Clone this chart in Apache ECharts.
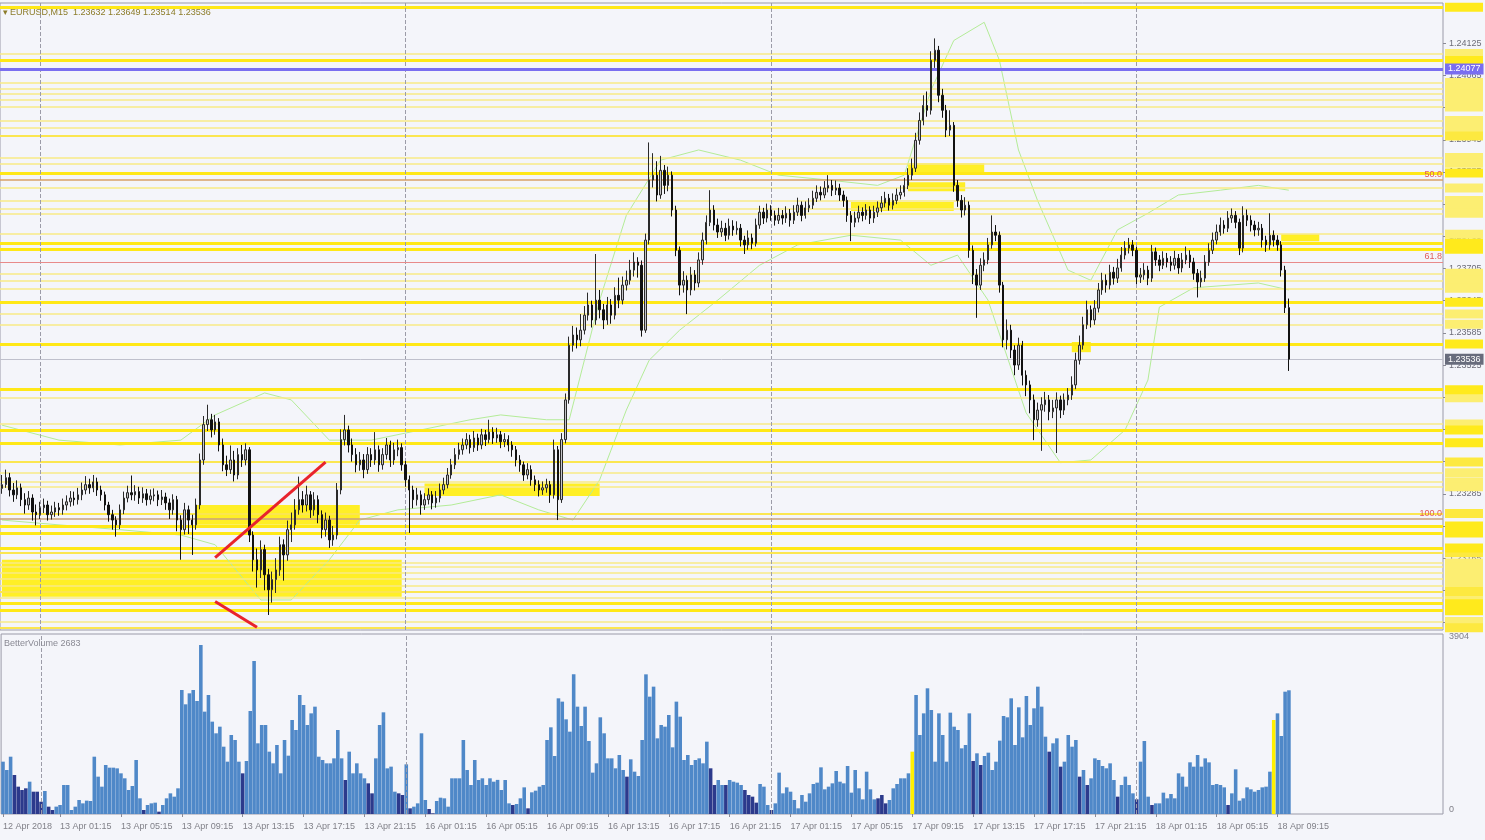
<!DOCTYPE html>
<html><head><meta charset="utf-8">
<script src="https://cdn.jsdelivr.net/npm/echarts@6/dist/echarts.min.js"></script>
<style>html,body{margin:0;padding:0;background:#f4f5fa;}#c{width:1485px;height:840px;}</style>
</head><body><div id="c"></div>
<script>
// ---------- DATA ----------
const symbolName = 'EURUSD,M15';
const firstOpen = 1.23295;
const closes = [
1.23302,1.23315,1.23292,1.23283,1.23296,1.23274,1.23264,1.23277,1.23251,1.23246,
1.23259,1.23264,1.23246,1.23251,1.23259,1.23255,1.23264,1.23270,1.23277,1.23274,
1.23283,1.23292,1.23302,1.23296,1.23307,1.23292,1.23283,1.23264,1.23246,1.23236,
1.23227,1.23255,1.23277,1.23287,1.23283,1.23289,1.23277,1.23285,1.23274,1.23281,
1.23283,1.23274,1.23279,1.23268,1.23255,1.23274,1.23236,1.23218,1.23255,1.23236,
1.23227,1.23264,1.23348,1.23414,1.23423,1.23404,1.23419,1.23376,1.23339,1.23330,
1.23348,1.23320,1.23358,1.23348,1.23367,1.23208,1.23162,1.23143,1.23181,1.23134,
1.23106,1.23125,1.23143,1.23190,1.23171,1.23218,1.23227,1.23255,1.23274,1.23264,
1.23283,1.23255,1.23274,1.23246,1.23218,1.23236,1.23199,1.23208,1.23292,1.23386,
1.23404,1.23376,1.23358,1.23339,1.23348,1.23330,1.23358,1.23348,1.23367,1.23339,
1.23358,1.23376,1.23348,1.23367,1.23371,1.23339,1.23311,1.23292,1.23274,1.23283,
1.23264,1.23274,1.23283,1.23268,1.23277,1.23292,1.23302,1.23320,1.23339,1.23358,
1.23367,1.23376,1.23386,1.23371,1.23389,1.23376,1.23395,1.23386,1.23400,1.23389,
1.23395,1.23382,1.23386,1.23376,1.23367,1.23348,1.23339,1.23320,1.23330,1.23311,
1.23302,1.23292,1.23296,1.23302,1.23283,1.23367,1.23274,1.23386,1.23460,1.23562,
1.23581,1.23572,1.23590,1.23618,1.23637,1.23609,1.23646,1.23628,1.23609,1.23637,
1.23618,1.23655,1.23646,1.23674,1.23683,1.23702,1.23717,1.23711,1.23590,1.23758,
1.23870,1.23879,1.23842,1.23888,1.23860,1.23879,1.23814,1.23739,1.23674,1.23683,
1.23665,1.23693,1.23678,1.23721,1.23758,1.23791,1.23814,1.23786,1.23773,1.23780,
1.23767,1.23784,1.23777,1.23780,1.23758,1.23749,1.23762,1.23752,1.23786,1.23810,
1.23799,1.23814,1.23804,1.23795,1.23804,1.23799,1.23808,1.23795,1.23810,1.23823,
1.23804,1.23818,1.23823,1.23836,1.23847,1.23842,1.23855,1.23860,1.23851,1.23855,
1.23842,1.23832,1.23804,1.23791,1.23799,1.23810,1.23804,1.23814,1.23799,1.23810,
1.23818,1.23827,1.23836,1.23823,1.23832,1.23842,1.23847,1.23860,1.23879,1.23892,
1.23944,1.23981,1.24009,1.24000,1.24093,1.24112,1.24028,1.24000,1.23963,1.23972,
1.23860,1.23832,1.23814,1.23823,1.23739,1.23693,1.23674,1.23711,1.23721,1.23749,
1.23773,1.23767,1.23674,1.23572,1.23590,1.23553,1.23525,1.23562,1.23506,1.23488,
1.23460,1.23423,1.23441,1.23451,1.23460,1.23438,1.23445,1.23460,1.23441,1.23460,
1.23469,1.23488,1.23534,1.23562,1.23600,1.23628,1.23609,1.23631,1.23665,1.23683,
1.23674,1.23698,1.23687,1.23706,1.23730,1.23743,1.23749,1.23739,1.23689,1.23693,
1.23702,1.23687,1.23736,1.23721,1.23711,1.23724,1.23717,1.23711,1.23724,1.23706,
1.23721,1.23730,1.23717,1.23696,1.23680,1.23687,1.23717,1.23739,1.23758,1.23773,
1.23786,1.23780,1.23799,1.23804,1.23791,1.23743,1.23804,1.23795,1.23786,1.23777,
1.23780,1.23758,1.23749,1.23767,1.23758,1.23749,1.23702,1.23632,1.23536];
const highs = [
1.23320,1.23330,1.23324,1.23305,1.23310,1.23304,1.23286,1.23290,1.23284,1.23265,
1.23270,1.23276,1.23272,1.23263,1.23270,1.23268,1.23276,1.23282,1.23290,1.23289,
1.23296,1.23306,1.23318,1.23313,1.23320,1.23315,1.23300,1.23289,1.23270,1.23255,
1.23243,1.23265,1.23289,1.23300,1.23319,1.23301,1.23298,1.23297,1.23294,1.23293,
1.23295,1.23291,1.23292,1.23287,1.23276,1.23284,1.23281,1.23245,1.23268,1.23263,
1.23246,1.23276,1.23360,1.23430,1.23451,1.23434,1.23432,1.23426,1.23388,1.23356,
1.23375,1.23365,1.23370,1.23376,1.23379,1.23372,1.23215,1.23183,1.23198,1.23190,
1.23145,1.23140,1.23165,1.23205,1.23200,1.23235,1.23250,1.23275,1.23317,1.23290,
1.23300,1.23290,1.23288,1.23282,1.23254,1.23250,1.23244,1.23225,1.23305,1.23405,
1.23432,1.23412,1.23388,1.23370,1.23363,1.23359,1.23372,1.23370,1.23400,1.23375,
1.23370,1.23389,1.23384,1.23380,1.23386,1.23379,1.23346,1.23319,1.23300,1.23296,
1.23291,1.23286,1.23295,1.23290,1.23290,1.23304,1.23315,1.23333,1.23350,1.23370,
1.23380,1.23388,1.23398,1.23395,1.23402,1.23397,1.23406,1.23404,1.23423,1.23409,
1.23408,1.23402,1.23398,1.23394,1.23383,1.23374,1.23357,1.23345,1.23342,1.23338,
1.23319,1.23310,1.23308,1.23313,1.23309,1.23386,1.23374,1.23398,1.23472,1.23578,
1.23598,1.23595,1.23620,1.23635,1.23660,1.23645,1.23732,1.23665,1.23639,1.23652,
1.23648,1.23670,1.23688,1.23690,1.23701,1.23721,1.23735,1.23726,1.23720,1.23770,
1.23940,1.23920,1.23905,1.23915,1.23898,1.23895,1.23886,1.23822,1.23746,1.23700,
1.23692,1.23708,1.23702,1.23735,1.23772,1.23804,1.23851,1.23823,1.23798,1.23794,
1.23790,1.23798,1.23795,1.23793,1.23788,1.23766,1.23776,1.23770,1.23798,1.23822,
1.23818,1.23826,1.23823,1.23813,1.23818,1.23814,1.23821,1.23816,1.23823,1.23837,
1.23830,1.23830,1.23836,1.23850,1.23860,1.23858,1.23868,1.23879,1.23870,1.23869,
1.23863,1.23850,1.23839,1.23812,1.23811,1.23822,1.23819,1.23825,1.23821,1.23822,
1.23830,1.23840,1.23848,1.23844,1.23845,1.23854,1.23860,1.23874,1.23892,1.23910,
1.23958,1.23996,1.24028,1.24035,1.24110,1.24134,1.24120,1.24040,1.24010,1.24000,
1.23978,1.23870,1.23842,1.23838,1.23830,1.23748,1.23704,1.23724,1.23735,1.23762,
1.23804,1.23786,1.23774,1.23680,1.23610,1.23600,1.23562,1.23576,1.23570,1.23515,
1.23496,1.23470,1.23455,1.23465,1.23475,1.23469,1.23460,1.23474,1.23468,1.23472,
1.23482,1.23504,1.23548,1.23580,1.23615,1.23645,1.23636,1.23646,1.23678,1.23697,
1.23694,1.23712,1.23708,1.23723,1.23745,1.23756,1.23762,1.23758,1.23746,1.23706,
1.23715,1.23710,1.23749,1.23744,1.23730,1.23737,1.23734,1.23728,1.23738,1.23732,
1.23734,1.23746,1.23739,1.23725,1.23704,1.23701,1.23730,1.23752,1.23772,1.23787,
1.23800,1.23795,1.23812,1.23817,1.23812,1.23798,1.23821,1.23815,1.23804,1.23794,
1.23792,1.23788,1.23766,1.23808,1.23776,1.23767,1.23756,1.23710,1.23649];
const lows = [
1.23285,1.23296,1.23280,1.23270,1.23275,1.23262,1.23248,1.23255,1.23235,1.23226,
1.23238,1.23249,1.23235,1.23237,1.23242,1.23244,1.23246,1.23254,1.23261,1.23263,
1.23265,1.23273,1.23284,1.23285,1.23288,1.23281,1.23272,1.23254,1.23233,1.23218,
1.23205,1.23219,1.23247,1.23269,1.23273,1.23272,1.23266,1.23268,1.23263,1.23265,
1.23271,1.23262,1.23264,1.23255,1.23238,1.23246,1.23215,1.23162,1.23209,1.23210,
1.23171,1.23218,1.23256,1.23339,1.23402,1.23390,1.23395,1.23364,1.23327,1.23318,
1.23322,1.23308,1.23312,1.23335,1.23338,1.23195,1.23140,1.23110,1.23128,1.23105,
1.23059,1.23082,1.23100,1.23132,1.23123,1.23160,1.23195,1.23218,1.23246,1.23250,
1.23252,1.23240,1.23244,1.23230,1.23202,1.23205,1.23184,1.23188,1.23200,1.23284,
1.23375,1.23362,1.23345,1.23325,1.23328,1.23314,1.23322,1.23335,1.23339,1.23326,
1.23330,1.23349,1.23335,1.23339,1.23355,1.23328,1.23298,1.23212,1.23258,1.23263,
1.23246,1.23255,1.23265,1.23256,1.23259,1.23269,1.23284,1.23295,1.23313,1.23331,
1.23349,1.23358,1.23368,1.23360,1.23363,1.23365,1.23368,1.23374,1.23379,1.23378,
1.23380,1.23370,1.23372,1.23364,1.23354,1.23336,1.23326,1.23309,1.23312,1.23300,
1.23290,1.23280,1.23283,1.23287,1.23268,1.23276,1.23236,1.23268,1.23379,1.23453,
1.23550,1.23556,1.23560,1.23582,1.23608,1.23595,1.23600,1.23612,1.23592,1.23600,
1.23602,1.23610,1.23631,1.23638,1.23664,1.23675,1.23690,1.23688,1.23578,1.23585,
1.23750,1.23856,1.23830,1.23835,1.23844,1.23849,1.23802,1.23728,1.23655,1.23660,
1.23620,1.23655,1.23664,1.23670,1.23712,1.23750,1.23784,1.23776,1.23762,1.23764,
1.23756,1.23759,1.23766,1.23768,1.23746,1.23732,1.23740,1.23741,1.23746,1.23779,
1.23788,1.23791,1.23794,1.23785,1.23788,1.23787,1.23790,1.23783,1.23788,1.23803,
1.23793,1.23798,1.23810,1.23816,1.23829,1.23832,1.23836,1.23847,1.23840,1.23842,
1.23831,1.23820,1.23792,1.23756,1.23782,1.23791,1.23793,1.23796,1.23788,1.23790,
1.23801,1.23810,1.23819,1.23813,1.23815,1.23825,1.23834,1.23839,1.23853,1.23870,
1.23885,1.23936,1.23972,1.23988,1.23992,1.24079,1.24015,1.23986,1.23950,1.23952,
1.23848,1.23820,1.23800,1.23804,1.23725,1.23676,1.23613,1.23665,1.23700,1.23713,
1.23742,1.23756,1.23660,1.23558,1.23554,1.23538,1.23506,1.23516,1.23487,1.23467,
1.23435,1.23385,1.23410,1.23365,1.23438,1.23422,1.23426,1.23361,1.23426,1.23432,
1.23450,1.23460,1.23480,1.23526,1.23554,1.23592,1.23595,1.23600,1.23623,1.23656,
1.23660,1.23666,1.23675,1.23678,1.23699,1.23722,1.23733,1.23728,1.23676,1.23678,
1.23684,1.23674,1.23680,1.23710,1.23700,1.23704,1.23707,1.23700,1.23703,1.23695,
1.23698,1.23713,1.23706,1.23684,1.23651,1.23670,1.23680,1.23710,1.23732,1.23750,
1.23766,1.23770,1.23773,1.23790,1.23780,1.23730,1.23735,1.23784,1.23774,1.23765,
1.23766,1.23744,1.23736,1.23740,1.23746,1.23738,1.23690,1.23622,1.23514];
const volumes = [
1135,954,1243,846,593,520,557,701,484,484,
267,499,159,87,160,195,629,629,87,159,
304,231,290,282,1243,810,593,1063,1005,1005,
990,882,774,521,607,1171,340,87,195,231,
246,51,195,340,448,376,557,2690,2379,2617,
2690,2451,3666,2220,2581,2003,1750,1894,1460,1135,
1714,1605,1135,882,1150,2234,3319,1533,1930,1930,
1352,1099,1497,882,1605,1265,2039,1822,2581,2364,
1930,2183,2328,1243,1171,1099,1099,1207,1822,1207,
737,1352,882,1099,882,774,665,448,1207,1930,
2205,990,1027,484,448,412,1077,123,159,231,
1750,304,108,14,282,354,340,159,774,774,
774,1605,954,629,1171,737,774,629,774,701,
740,521,737,231,195,217,340,578,123,470,
506,593,629,1605,1880,1258,2509,2437,2053,1786,
3029,2328,1909,2328,1583,897,1099,2097,1750,1207,
1207,991,1280,954,810,1186,918,824,1605,3029,
2545,2762,1641,1930,1894,2147,1446,2437,2111,1171,
1280,1063,1171,1207,1099,1569,991,629,737,629,
629,737,701,680,629,521,412,376,246,651,
593,195,87,231,897,448,578,484,304,123,
412,267,448,651,680,1012,535,593,665,933,
701,665,1041,463,954,557,318,918,535,318,
340,412,231,304,557,651,774,774,882,1352,
2581,1714,2183,2726,2256,1135,2183,1714,1135,2198,
1894,1822,1424,1497,2183,1150,1316,1063,1258,1330,
954,1135,1591,2126,2097,2509,1497,2314,1663,2559,
1930,2292,2762,2328,1677,1352,1533,1641,1027,1135,
1714,1460,1605,810,954,629,774,1207,1171,1041,
991,1099,737,376,629,810,629,448,318,1135,
1583,376,195,231,231,463,340,434,340,882,
810,593,1121,1027,1280,1027,1207,1120,629,650,
629,578,195,448,969,289,340,578,535,484,
520,578,593,918,2039,2183,1692,2653,2683];
const darkVolBars = [3,4,5,6,8,9,10,12,13,37,41,63,90,96,97,104,105,107,112,113,134,138,164,186,187,190,195,196,197,198,202,230,231,232,255,257,275,278,283,285,293,298,302,322];
const climaxVolBars = [239,334];
const volMax = 3904;
const totalSlots = 379;
const xTickBars = [0,15,31,47,63,79,95,111,127,143,159,175,191,207,223,239,255,271,287,303,319,335];
const xTickLabels = ['12 Apr 2018','13 Apr 01:15','13 Apr 05:15','13 Apr 09:15','13 Apr 13:15','13 Apr 17:15','13 Apr 21:15','16 Apr 01:15','16 Apr 05:15','16 Apr 09:15','16 Apr 13:15','16 Apr 17:15','16 Apr 21:15','17 Apr 01:15','17 Apr 05:15','17 Apr 09:15','17 Apr 13:15','17 Apr 17:15','17 Apr 21:15','18 Apr 01:15','18 Apr 05:15','18 Apr 09:15'];
const daySeparatorBars = [10,106,202,298];
const priceMin = 1.23031, priceMax = 1.24200;
const yTickValues = [1.24125,1.24065,1.24005,1.23945,1.23885,1.23825,1.23765,1.23705,1.23645,1.23585,1.23525,1.23465,1.23405,1.23345,1.23285,1.23225,1.23165,1.23105,1.23045];
const strongLevels = [1.24192,1.24093,1.23883,1.23752,1.23741,1.23642,1.23564,1.23479,1.23404,1.23380,1.23225,1.23212,1.23184,1.23080,1.23067];
const mediumLevels = [1.23952,1.23344,1.23248,1.23175,1.23103,1.23035];
const weakLevels = [1.24106,1.24052,1.24041,1.24030,1.24019,1.24006,1.23981,1.23968,1.23912,1.23901,1.23855,1.23832,1.23817,1.23808,1.23769,1.23696,1.23683,1.23668,1.23620,1.23601,1.23464,1.23415,1.23324,1.23307,1.23298,1.23156,1.23149,1.23138,1.23127,1.23114,1.23091,1.23047];
const purpleLevel = 1.24077;
const fibLevels = [1.23870,1.23717,1.23238];
const fibNames = ['50.0','61.8','100.0'];
const zones = [
 [[0,1.23162],[105,1.23093]],
 [[51,1.23264],[94,1.23227]],
 [[111,1.23304],[157,1.23281]],
 [[238,1.23901],[258,1.23885]],
 [[238,1.23866],[253,1.23849]],
 [[223,1.23829],[250,1.23812]],
 [[336,1.23769],[346,1.23756]],
 [[281,1.23568],[286,1.23549]]];
const trendLines = [
 [[56,1.23166],[85,1.23344]],
 [[56,1.23084],[67,1.23036]]];
const upperBand = [[0,1.23413],[15,1.23385],[31,1.23376],[47,1.23385],[56,1.23432],[69,1.23473],[76,1.23460],[86,1.23385],[97,1.23385],[110,1.23404],[123,1.23423],[131,1.23432],[143,1.23423],[149,1.23423],[157,1.23646],[164,1.23804],[173,1.23907],[183,1.23926],[194,1.23907],[204,1.23879],[217,1.23870],[230,1.23860],[237,1.23879],[244,1.24037],[250,1.24130],[258,1.24164],[262,1.24093],[267,1.23926],[272,1.23832],[280,1.23702],[286,1.23683],[293,1.23777],[301,1.23808],[309,1.23842],[320,1.23851],[330,1.23860],[338,1.23851]];
const lowerBand = [[0,1.23236],[15,1.23227],[31,1.23218],[47,1.23208],[56,1.23190],[68,1.23087],[76,1.23087],[86,1.23162],[94,1.23236],[104,1.23255],[118,1.23264],[131,1.23283],[141,1.23255],[150,1.23236],[157,1.23311],[164,1.23441],[170,1.23534],[178,1.23590],[188,1.23646],[199,1.23711],[209,1.23749],[223,1.23767],[236,1.23758],[244,1.23711],[251,1.23730],[259,1.23646],[269,1.23436],[278,1.23343],[286,1.23348],[295,1.23404],[301,1.23497],[304,1.23633],[313,1.23669],[330,1.23678],[338,1.23665]];

// ---------- BUILD ----------
const FONT = '"Liberation Sans", "DejaVu Sans", Arial, sans-serif';
const n = closes.length;
const opens = closes.map((c,i)=> i===0 ? firstOpen : closes[i-1]);
const candles = closes.map((c,i)=>[opens[i], c, lows[i], highs[i]]);
const categories = Array.from({length: totalSlots}, (_, i) => String(i));
const tickMap = {}; xTickBars.forEach((b,k)=>{ tickMap[b] = xTickLabels[k]; });
const darkSet = new Set(darkVolBars), climaxSet = new Set(climaxVolBars);
const volData = volumes.map((v,i)=>({value:v, itemStyle:{color: climaxSet.has(i) ? '#fff000' : (darkSet.has(i) ? '#2c3a8c' : '#4f88c8')}}));
const lastClose = closes[n-1];
const lastHigh = highs[n-1], lastLow = lows[n-1], lastOpen = opens[n-1];

function tag(bg){
  return {show:true, position:'end', distance:2, formatter:' ', backgroundColor:bg, width:38, height:9, padding:0, fontSize:7};
}
const levelData = [];
weakLevels.forEach(p=>levelData.push({yAxis:p, lineStyle:{color:'#f8ea86', width:1.5, type:'solid'}, label:tag('#fcee72')}));
mediumLevels.forEach(p=>levelData.push({yAxis:p, lineStyle:{color:'#fbe650', width:2, type:'solid'}, label:tag('#fde940')}));
strongLevels.forEach(p=>levelData.push({yAxis:p, lineStyle:{color:'#ffe817', width:3, type:'solid'}, label:tag('#ffea1c')}));

const fibData = fibLevels.map((p,k)=>({yAxis:p,
  lineStyle:{color: k===0 ? '#d9a066' : (k===1 ? '#e88a8a' : '#c8a07c'), width: k===1 ? 1.2 : 1.6, type:'solid'},
  label:{show:true, position:'insideEndTop', formatter: fibNames[k], color:'#e05a5a', fontSize:9, fontFamily:FONT, distance:1}}));
const tagData = [
  {yAxis:purpleLevel, lineStyle:{color:'#7a6ef0', width:3, type:'solid'},
   label:{show:true, position:'end', distance:2, formatter: purpleLevel.toFixed(5), color:'#ffffff', backgroundColor:'#7a6ef0', fontSize:9, fontFamily:FONT, padding:[1,3,1,3]}},
  {yAxis:lastClose, lineStyle:{color:'#bfc0cc', width:1, type:'solid'},
   label:{show:true, position:'end', distance:2, formatter: lastClose.toFixed(5), color:'#ffffff', backgroundColor:'#686c7c', fontSize:9, fontFamily:FONT, padding:[1,3,1,3]}}];

const sepData = daySeparatorBars.map(b=>({xAxis:b}));
const sepLine = {symbol:['none','none'], silent:true, precision:0, lineStyle:{color:'#9c9ca8', width:1, type:'dashed'}, label:{show:false}, data:sepData};

const hidden = {type:'line', symbol:'none', silent:true, lineStyle:{opacity:0}, itemStyle:{opacity:0}};

const option = {
  animation:false,
  backgroundColor:'#f4f5fa',
  textStyle:{fontFamily:FONT},
  grid:[
    {left:0, right:42, top:3, height:627, show:true, borderColor:'#9a9aa8', borderWidth:1, backgroundColor:'transparent'},
    {left:0, right:42, top:634, height:180, show:true, borderColor:'#9a9aa8', borderWidth:1, backgroundColor:'transparent'}
  ],
  xAxis:[
    {type:'category', gridIndex:0, data:categories, axisLine:{show:false}, axisTick:{show:false}, axisLabel:{show:false}, splitLine:{show:false}},
    {type:'category', gridIndex:1, data:categories, axisLine:{show:false},
      axisTick:{show:true, alignWithLabel:true, length:3, interval:(i)=> tickMap[i]!==undefined, lineStyle:{color:'#8a8a96'}},
      axisLabel:{show:true, interval:(i)=> tickMap[i]!==undefined, formatter:(v,i)=> tickMap[i]||'', align:'left', color:'#808088', fontSize:9, margin:8, fontFamily:FONT},
      splitLine:{show:false}}
  ],
  yAxis:[
    {type:'value', gridIndex:0, position:'right', min:priceMin, max:priceMax, z:3, splitLine:{show:false},
      axisLine:{show:false}, axisTick:{show:true, length:3, inside:false, customValues:yTickValues, lineStyle:{color:'#8a8a96'}},
      axisLabel:{customValues:yTickValues, formatter:(v)=>v.toFixed(5), color:'#6c6c78', fontSize:9, margin:6, fontFamily:FONT}},
    {type:'value', gridIndex:1, position:'right', min:0, max:volMax, splitLine:{show:false},
      axisLine:{show:false}, axisTick:{show:false},
      axisLabel:{customValues:[0, volMax], formatter:(v)=> v >= volMax ? '{t|' + Math.round(v) + '}' : '{b|' + Math.round(v) + '}',
        rich:{t:{padding:[6,0,0,0], fontSize:9, color:'#808088'}, b:{padding:[0,0,8,0], fontSize:9, color:'#808088'}},
        color:'#808088', fontSize:9, margin:6, fontFamily:FONT}}
  ],
  series:[
    Object.assign({}, hidden, {name:'levels', xAxisIndex:0, yAxisIndex:0, data:closes, z:1,
      markLine:{symbol:['none','none'], silent:true, precision:6, data:levelData}}),
    Object.assign({}, hidden, {name:'zones', xAxisIndex:0, yAxisIndex:0, data:closes, z:2,
      markArea:{silent:true, itemStyle:{color:'#ffee1a', opacity:0.95}, data:zones.map(z=>[{coord:z[0]},{coord:z[1]}])}}),
    Object.assign({}, hidden, {name:'sepTop', xAxisIndex:0, yAxisIndex:0, data:closes, z:2, markLine:sepLine}),
    {name:'upper', type:'line', xAxisIndex:0, yAxisIndex:0, data:upperBand, symbol:'none', z:3, silent:true, lineStyle:{color:'#b4ec98', width:1}},
    {name:'lower', type:'line', xAxisIndex:0, yAxisIndex:0, data:lowerBand, symbol:'none', z:3, silent:true, lineStyle:{color:'#b4ec98', width:1}},
    Object.assign({}, hidden, {name:'fib', xAxisIndex:0, yAxisIndex:0, data:closes, z:4,
      markLine:{symbol:['none','none'], silent:true, precision:6, data:fibData}}),
    Object.assign({}, hidden, {name:'tags', xAxisIndex:0, yAxisIndex:0, data:closes, z:7,
      markLine:{symbol:['none','none'], silent:true, precision:6, data:tagData}}),
    {name:symbolName, type:'candlestick', xAxisIndex:0, yAxisIndex:0, data:candles, z:5, barMaxWidth:3,
      itemStyle:{color:'#c4c4c8', color0:'#111111', borderColor:'#2a2a2a', borderColor0:'#111111', borderWidth:1}},
    {name:'trend1', type:'line', xAxisIndex:0, yAxisIndex:0, data:trendLines[0], symbol:'none', z:6, silent:true, lineStyle:{color:'#e8232c', width:3}},
    {name:'trend2', type:'line', xAxisIndex:0, yAxisIndex:0, data:trendLines[1], symbol:'none', z:6, silent:true, lineStyle:{color:'#e8232c', width:3}},
    {name:'BetterVolume', type:'bar', xAxisIndex:1, yAxisIndex:1, data:volData, barCategoryGap:'6%', z:3, markLine:sepLine}
  ],
  graphic:[
    {type:'text', left:3, top:8, z:100, style:{text:'\u25BE ' + symbolName + '  ' + lastOpen.toFixed(5) + ' ' + lastHigh.toFixed(5) + ' ' + lastLow.toFixed(5) + ' ' + lastClose.toFixed(5), fill:'#8c7c2a', font:'9px ' + FONT}},
    {type:'text', left:4, top:639, z:100, style:{text:'BetterVolume ' + volumes[n-1], fill:'#8a8a94', font:'9px ' + FONT}}
  ]
};
const chart = echarts.init(document.getElementById('c'));
chart.setOption(option);
</script>
</body></html>
